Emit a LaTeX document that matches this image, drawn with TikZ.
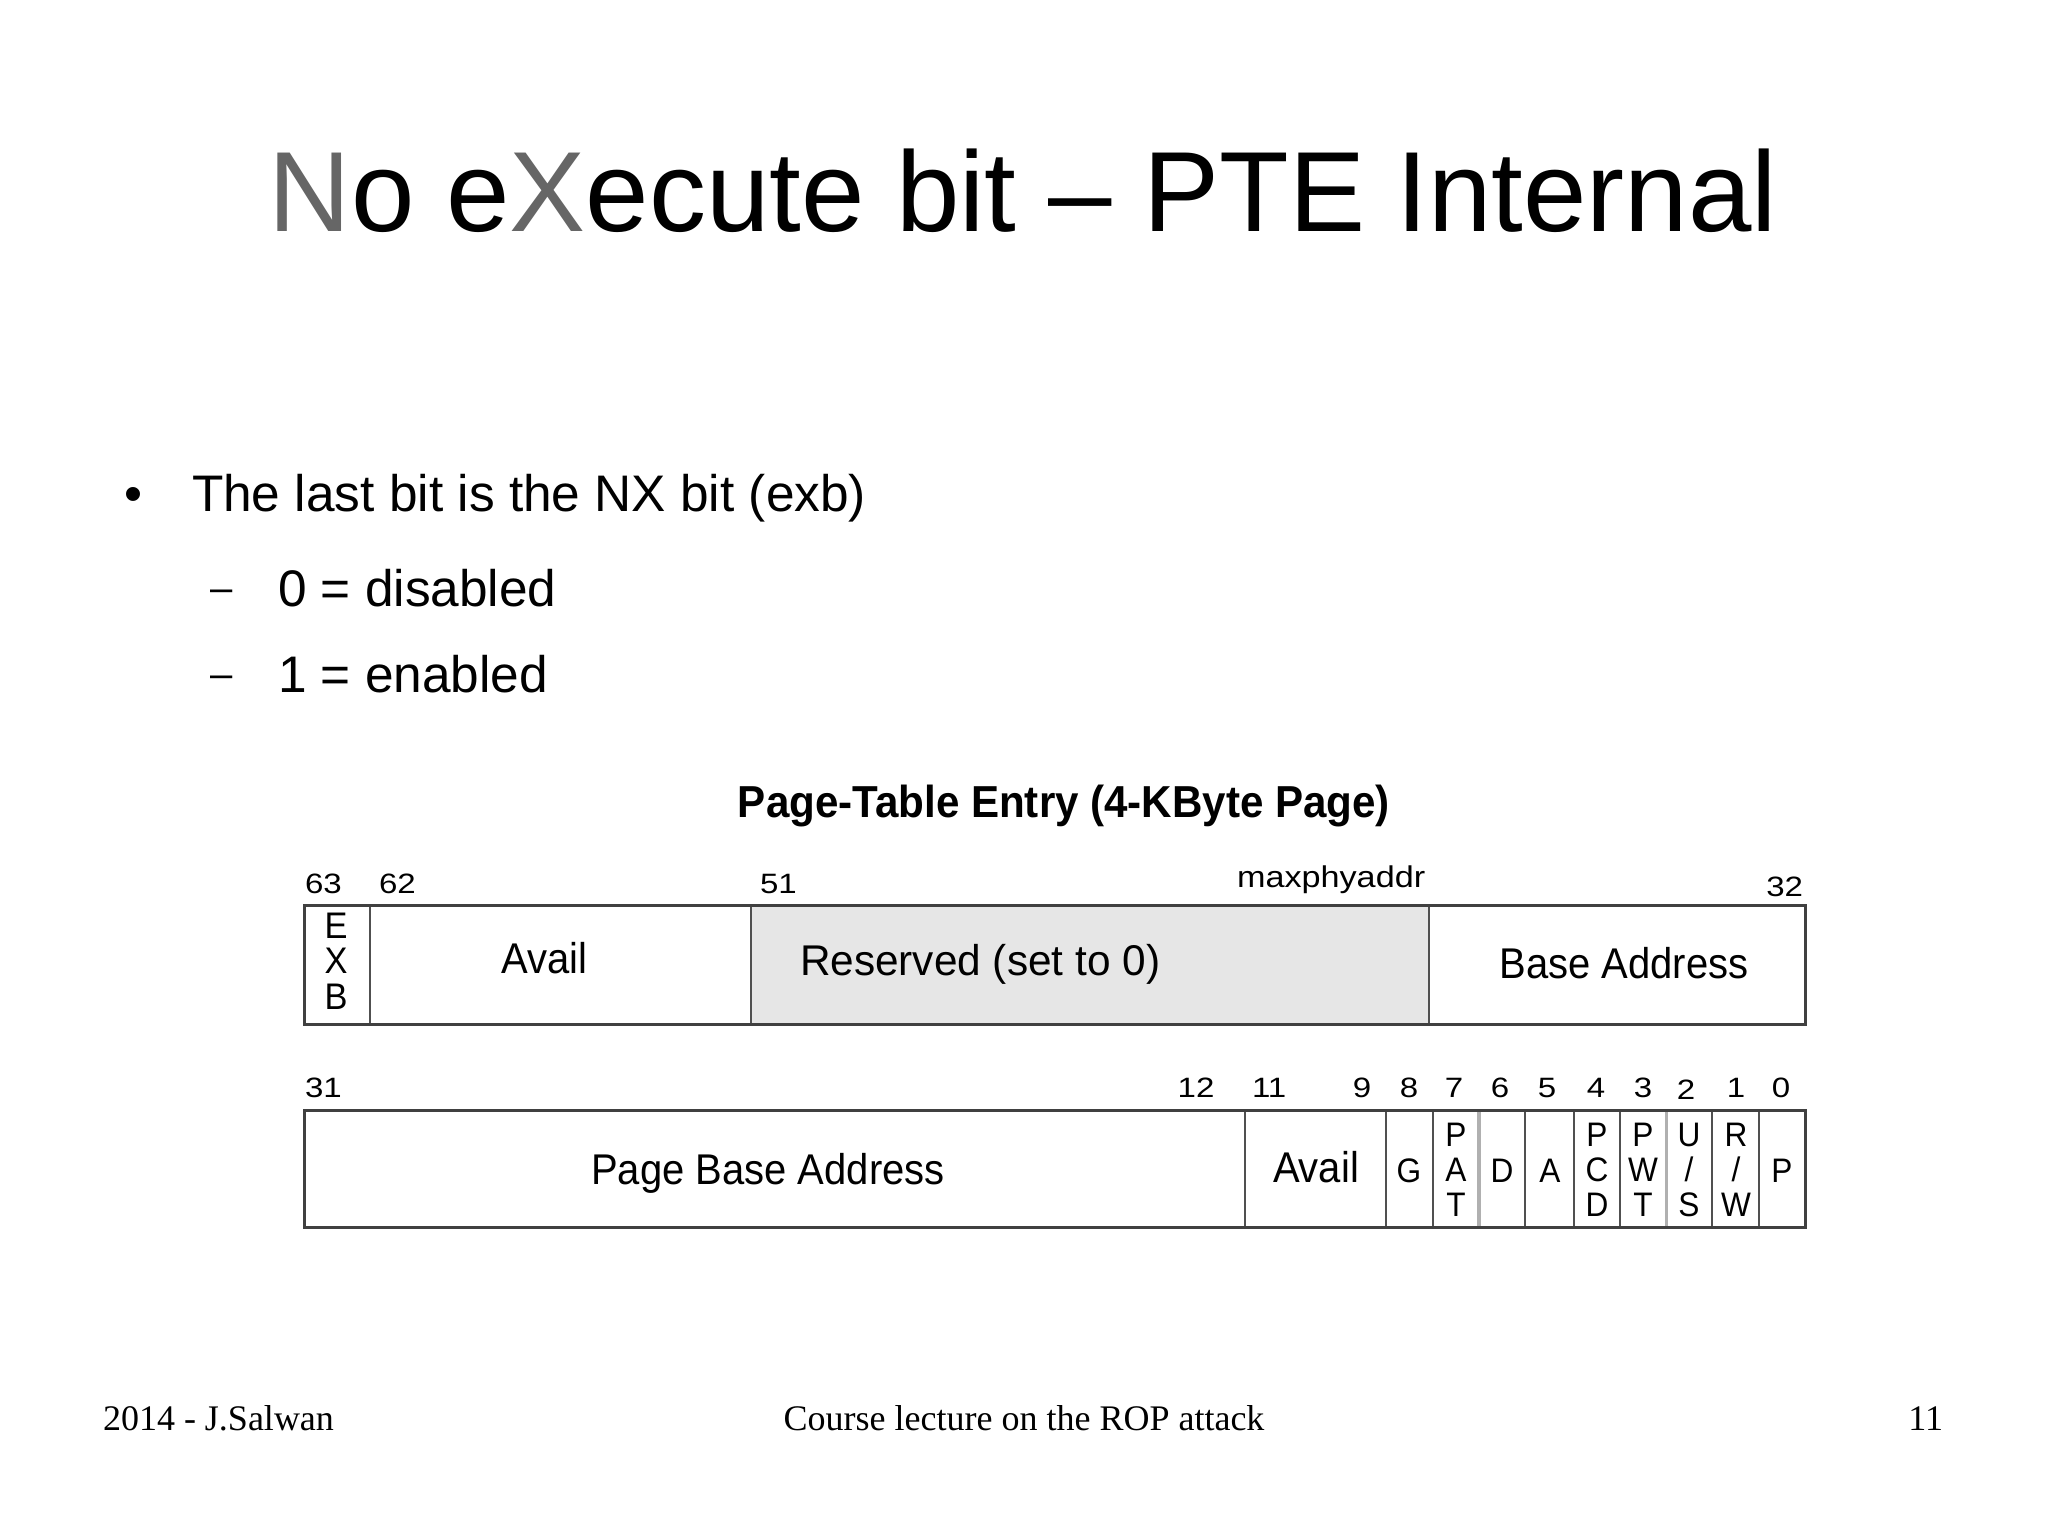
\documentclass[tikz,border=0pt]{standalone}
\usepackage{fontspec}
\setmainfont{Liberation Sans}
\newfontfamily\serifface{Liberation Serif}
\newfontfamily\diagface[FakeStretch=0.93]{Liberation Sans}
\newfontfamily\resface[FakeStretch=0.985]{Liberation Sans}
\newfontfamily\labface[FakeStretch=1.18]{Liberation Sans}
\newfontfamily\maxface[FakeStretch=1.14]{Liberation Sans}
\newfontfamily\dtface[FakeStretch=0.94]{Liberation Sans}
\definecolor{titlegray}{HTML}{666666}
\definecolor{boxline}{HTML}{404040}
\definecolor{divline}{HTML}{505050}
\definecolor{lightdiv}{HTML}{B0B0B0}
\definecolor{resfill}{HTML}{E6E6E6}
\begin{document}
\begin{tikzpicture}[x=1pt,y=-1pt,
  txt/.style={inner sep=0pt,outer sep=0pt},
  cell/.style={txt,font=\diagface\fontsize{43}{46}\selectfont},
  vcell/.style={txt,align=center,font=\diagface\fontsize{34}{35}\selectfont},
  bitlab/.style={txt,font=\labface\fontsize{28}{30}\selectfont},
  slide/.style={txt,font=\fontsize{51.4}{60}\selectfont},
  subdash/.style={txt,font=\fontsize{40}{44}\selectfont},
  foot/.style={txt,font=\serifface\fontsize{36}{40}\selectfont},
  frame/.style={draw=boxline,line width=3pt},
  divider/.style={draw=divline,line width=2.5pt}]
\useasboundingbox (0,0) rectangle (2048,1535);
\fill[white] (0,0) rectangle (2048,1535);

% title
\node[txt,anchor=base,font=\fontsize{114}{130}\selectfont] (title) at (1023,231)
  {{\color{titlegray}N}o e{\color{titlegray}X}ecute bit – PTE Internal};

% bullets
\node[slide,anchor=base] (bul) at (133,511) {•};
\node[slide,anchor=base west] (b1) at (192,511) {The last bit is the NX bit (exb)};
\node[subdash,anchor=base] (d1) at (222,601) {–};
\node[slide,anchor=base west] (s1) at (278,606) {0 = disabled};
\node[subdash,anchor=base] (d2) at (222,687) {–};
\node[slide,anchor=base west] (s2) at (278,692) {1 = enabled};

% diagram title
\node[txt,anchor=base,font=\dtface\bfseries\fontsize{44.8}{48}\selectfont] (dtitle) at (1064,817)
  {Page-Table Entry (4-KByte Page)};

% top row
\fill[resfill] (751,905) rectangle (1429,1024);
\draw[divider] (370,905) -- (370,1024);
\draw[divider] (751,905) -- (751,1024);
\draw[divider] (1429,905) -- (1429,1024);
\draw[frame] (304,905) rectangle (1805,1024);

\node[bitlab,anchor=base west] (l63) at (305,893) {63};
\node[bitlab,anchor=base west] (l62) at (379,893) {62};
\node[bitlab,anchor=base west] (l51) at (760,893) {51};
\node[txt,anchor=base west,font=\maxface\fontsize{30}{32}\selectfont] (lmax) at (1237,887) {maxphyaddr};
\node[bitlab,anchor=base east] (l32) at (1803,896) {32};

\node[txt,align=center,font=\diagface\fontsize{37}{35.5}\selectfont] (exb) at (336,961) {E\\X\\B};
\node[cell,anchor=base] (avail1) at (544.5,973) {Avail};
\node[txt,anchor=base west,font=\resface\fontsize{43}{46}\selectfont] (res) at (800,975) {Reserved (set to 0)};
\node[cell,anchor=base] (base) at (1624,978) {Base Address};

% bottom row
\draw[divider] (1245,1110) -- (1245,1227);
\draw[divider] (1386,1110) -- (1386,1227);
\draw[divider] (1433,1110) -- (1433,1227);
\draw[draw=lightdiv,line width=4pt] (1479,1110) -- (1479,1227);
\draw[divider] (1525,1110) -- (1525,1227);
\draw[divider] (1574,1110) -- (1574,1227);
\draw[divider] (1620,1110) -- (1620,1227);
\draw[draw=lightdiv,line width=3pt] (1666,1110) -- (1666,1227);
\draw[divider] (1712,1110) -- (1712,1227);
\draw[divider] (1759,1110) -- (1759,1227);
\draw[frame] (304,1110) rectangle (1805,1227);

\node[bitlab,anchor=base west] (l31) at (305,1097) {31};
\node[bitlab,anchor=base] (l12) at (1196,1097) {12};
\node[bitlab,anchor=base west] (l11) at (1252,1097) {11};
\node[bitlab,anchor=base] (l9) at (1362,1097) {9};
\node[bitlab,anchor=base] (l8) at (1409,1097) {8};
\node[bitlab,anchor=base] (l7) at (1454,1097) {7};
\node[bitlab,anchor=base] (l6) at (1500,1097) {6};
\node[bitlab,anchor=base] (l5) at (1547,1097) {5};
\node[bitlab,anchor=base] (l4) at (1596,1097) {4};
\node[bitlab,anchor=base] (l3) at (1643,1097) {3};
\node[bitlab,anchor=base] (l2) at (1686,1099) {2};
\node[bitlab,anchor=base] (l1) at (1736,1097) {1};
\node[bitlab,anchor=base] (l0) at (1781,1097) {0};

\node[cell,anchor=base] (pba) at (768,1184) {Page Base Address};
\node[cell,anchor=base] (avail2) at (1316,1182) {Avail};
\node[vcell,anchor=base] (g) at (1409,1182) {G};
\node[vcell] (pat) at (1456,1170) {P\\A\\T};
\node[vcell,anchor=base] (dd) at (1502,1182) {D};
\node[vcell,anchor=base] (aa) at (1550,1182) {A};
\node[vcell] (pcd) at (1597,1170) {P\\C\\D};
\node[vcell] (pwt) at (1643,1170) {P\\W\\T};
\node[vcell] (us) at (1689,1170) {U\\/\\S};
\node[vcell] (rw) at (1736,1170) {R\\/\\W};
\node[vcell,anchor=base] (pp) at (1782,1182) {P};

% footer
\node[foot,anchor=base west] (f1) at (103,1430) {2014 - J.Salwan};
\node[foot,anchor=base] (f2) at (1024,1430) {Course lecture on the ROP attack};
\node[foot,anchor=base east] (f3) at (1943,1430) {11};
\end{tikzpicture}
\end{document}
